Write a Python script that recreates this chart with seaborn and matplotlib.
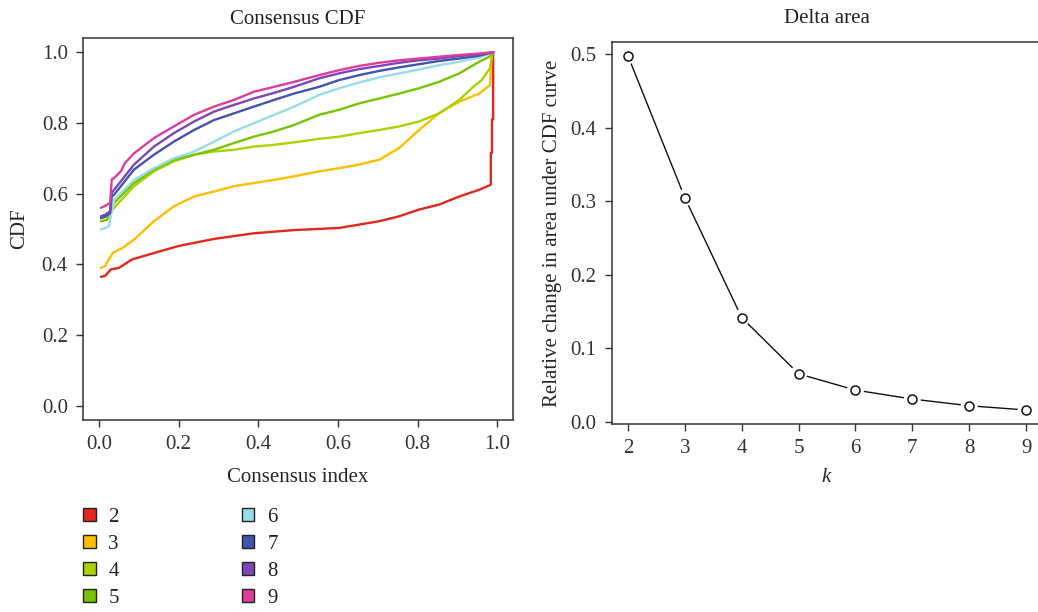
import numpy as np
import pandas as pd
import matplotlib
matplotlib.use("Agg")
import matplotlib.pyplot as plt
from matplotlib.patches import Patch
import seaborn as sns

# ---- consensus CDF curves, one per number of clusters k ----
k_labels = ["2", "3", "4", "5", "6", "7", "8", "9"]
k_colors = ["#E0281C", "#FFBE00", "#A9D200", "#76C400",
            "#96DCEA", "#4254AE", "#7D45B6", "#DA3E98"]

x_k2 = [0.005, 0.015, 0.03, 0.05, 0.083, 0.138, 0.2, 0.289, 0.39, 0.49, 0.603, 0.704, 0.754, 0.804, 0.854, 0.905, 0.955, 0.984, 0.984, 0.987, 0.987, 0.99, 0.99]
y_k2 = [0.365, 0.367, 0.386, 0.39, 0.414, 0.432, 0.452, 0.472, 0.488, 0.497, 0.503, 0.522, 0.536, 0.555, 0.569, 0.592, 0.611, 0.625, 0.715, 0.715, 0.81, 0.81, 1.0]

x_k3 = [0.005, 0.015, 0.035, 0.06, 0.088, 0.138, 0.188, 0.239, 0.289, 0.339, 0.389, 0.44, 0.49, 0.553, 0.603, 0.653, 0.704, 0.754, 0.804, 0.854, 0.905, 0.955, 0.972, 0.982, 0.986]
y_k3 = [0.39, 0.395, 0.433, 0.447, 0.47, 0.522, 0.564, 0.592, 0.606, 0.621, 0.630, 0.639, 0.649, 0.663, 0.672, 0.682, 0.696, 0.729, 0.780, 0.827, 0.860, 0.883, 0.898, 0.907, 0.996]

x_k4 = [0.005, 0.02, 0.038, 0.088, 0.138, 0.188, 0.239, 0.289, 0.339, 0.389, 0.44, 0.49, 0.553, 0.603, 0.653, 0.704, 0.754, 0.804, 0.854, 0.905, 0.94, 0.961, 0.976, 0.982, 0.988]
y_k4 = [0.531, 0.535, 0.560, 0.621, 0.663, 0.691, 0.710, 0.719, 0.724, 0.733, 0.738, 0.745, 0.755, 0.761, 0.771, 0.780, 0.790, 0.804, 0.827, 0.865, 0.902, 0.921, 0.945, 0.954, 0.996]

x_k5 = [0.005, 0.02, 0.038, 0.088, 0.138, 0.188, 0.239, 0.289, 0.339, 0.389, 0.44, 0.49, 0.553, 0.603, 0.653, 0.704, 0.754, 0.804, 0.854, 0.905, 0.955, 0.98, 0.99]
y_k5 = [0.522, 0.526, 0.574, 0.630, 0.668, 0.696, 0.710, 0.724, 0.743, 0.761, 0.776, 0.794, 0.823, 0.837, 0.855, 0.869, 0.883, 0.898, 0.916, 0.940, 0.973, 0.987, 1.0]

x_k6 = [0.005, 0.015, 0.025, 0.038, 0.088, 0.138, 0.188, 0.239, 0.289, 0.339, 0.389, 0.44, 0.49, 0.553, 0.603, 0.653, 0.704, 0.754, 0.804, 0.854, 0.905, 0.955, 0.99]
y_k6 = [0.499, 0.502, 0.508, 0.583, 0.639, 0.672, 0.700, 0.719, 0.747, 0.776, 0.799, 0.823, 0.846, 0.879, 0.898, 0.914, 0.929, 0.940, 0.951, 0.963, 0.973, 0.985, 1.0]

x_k7 = [0.005, 0.015, 0.028, 0.032, 0.038, 0.088, 0.138, 0.188, 0.239, 0.289, 0.339, 0.389, 0.44, 0.49, 0.553, 0.603, 0.653, 0.704, 0.754, 0.804, 0.854, 0.905, 0.955, 0.99]
y_k7 = [0.531, 0.535, 0.545, 0.592, 0.597, 0.668, 0.710, 0.747, 0.780, 0.808, 0.827, 0.846, 0.865, 0.883, 0.902, 0.921, 0.935, 0.947, 0.957, 0.966, 0.975, 0.982, 0.990, 1.0]

x_k8 = [0.005, 0.015, 0.028, 0.032, 0.038, 0.088, 0.138, 0.188, 0.239, 0.289, 0.339, 0.389, 0.44, 0.49, 0.553, 0.603, 0.653, 0.704, 0.754, 0.804, 0.854, 0.905, 0.955, 0.99]
y_k8 = [0.536, 0.540, 0.550, 0.602, 0.611, 0.682, 0.733, 0.771, 0.804, 0.832, 0.851, 0.869, 0.885, 0.902, 0.926, 0.940, 0.952, 0.961, 0.970, 0.977, 0.982, 0.989, 0.994, 1.0]

x_k9 = [0.005, 0.015, 0.028, 0.032, 0.038, 0.055, 0.065, 0.088, 0.138, 0.188, 0.239, 0.289, 0.339, 0.389, 0.44, 0.49, 0.553, 0.603, 0.653, 0.704, 0.754, 0.804, 0.854, 0.905, 0.955, 0.99]
y_k9 = [0.560, 0.565, 0.574, 0.640, 0.644, 0.663, 0.686, 0.714, 0.757, 0.790, 0.823, 0.846, 0.865, 0.888, 0.902, 0.916, 0.935, 0.949, 0.961, 0.970, 0.977, 0.982, 0.987, 0.992, 0.996, 1.0]

cdf_x = [x_k2, x_k3, x_k4, x_k5, x_k6, x_k7, x_k8, x_k9]
cdf_y = [y_k2, y_k3, y_k4, y_k5, y_k6, y_k7, y_k8, y_k9]

# ---- delta area ----
k_values = [2, 3, 4, 5, 6, 7, 8, 9]
delta_area = [0.498, 0.305, 0.142, 0.0655, 0.0434, 0.0312, 0.0221, 0.0163]

sns.set_theme(style="white")
plt.rcParams["font.family"] = ["Liberation Serif", "DejaVu Serif"]
plt.rcParams["mathtext.fontset"] = "custom"
plt.rcParams["mathtext.it"] = "Liberation Serif:italic"
plt.rcParams["axes.edgecolor"] = "#333333"
plt.rcParams["axes.linewidth"] = 1.1
plt.rcParams["xtick.color"] = "#333333"
plt.rcParams["ytick.color"] = "#333333"
plt.rcParams["text.color"] = "#222222"

FS = 15

fig = plt.figure(figsize=(10.38, 6.12), dpi=100)
ax1 = fig.add_axes([0.0800, 0.3137, 0.4143, 0.6242])
ax2 = fig.add_axes([0.5896, 0.3072, 0.4143, 0.6242])

# long-form table for the CDF curves
frames = []
for lab, xs, ys in zip(k_labels, cdf_x, cdf_y):
    frames.append(pd.DataFrame({"index": xs, "cdf": ys, "k": lab}))
cdf_df = pd.concat(frames, ignore_index=True)

sns.lineplot(data=cdf_df, x="index", y="cdf", hue="k", hue_order=k_labels,
             palette=k_colors, sort=False, estimator=None, linewidth=1.7,
             legend=False, ax=ax1)

ticks01 = np.arange(0, 1.01, 0.2)
ax1.set_xlim(-0.04, 1.04)
ax1.set_ylim(-0.04, 1.04)
ax1.set_xticks(ticks01)
ax1.set_yticks(ticks01)
ax1.set_xticklabels([f"{v:.1f}" for v in ticks01])
ax1.set_yticklabels([f"{v:.1f}" for v in ticks01])
ax1.set_xlabel("Consensus index", fontsize=FS, labelpad=10)
ax1.set_ylabel("CDF", fontsize=FS, labelpad=9)
ax1.set_title("Consensus CDF", fontsize=FS, pad=10)

# delta area line with open circles separated from the segments
delta_df = pd.DataFrame({"k": k_values, "delta": delta_area})
sns.lineplot(data=delta_df, x="k", y="delta", color="#111111",
             linewidth=1.0, ax=ax2)
ax2.scatter(delta_df["k"], delta_df["delta"], s=150, color="white",
            edgecolor="none", zorder=3)
ax2.scatter(delta_df["k"], delta_df["delta"], s=42, facecolor="white",
            edgecolor="#111111", linewidth=1.1, zorder=4)

ticks_d = np.arange(0, 0.51, 0.1)
ax2.set_xlim(1.72, 9.28)
ax2.set_ylim(-0.0027, 0.5167)
ax2.set_xticks(k_values)
ax2.set_yticks(ticks_d)
ax2.set_yticklabels([f"{v:.1f}" for v in ticks_d])
ax2.set_xlabel("$k$", fontsize=FS, labelpad=7)
ax2.set_ylabel("Relative change in area under CDF curve", fontsize=FS, labelpad=6)
ax2.set_title("Delta area", fontsize=FS, pad=14)

for ax in (ax1, ax2):
    ax.tick_params(axis="both", which="major", direction="out", length=5,
                   width=1.0, labelsize=FS, pad=6, bottom=True, left=True)
    for s in ax.spines.values():
        s.set_visible(True)

# legend of cluster colours beneath the CDF panel
handles = [Patch(facecolor=c, edgecolor="#222222", linewidth=1.0, label=l)
           for c, l in zip(k_colors, k_labels)]
fig.legend(handles=handles, ncol=2, loc="upper left",
           bbox_to_anchor=(83 / 1038, 1 - 508 / 612), frameon=False,
           fontsize=FS, handlelength=0.6, handleheight=0.6,
           handletextpad=0.62, labelspacing=0.38, columnspacing=5.9,
           borderpad=0, borderaxespad=0)

fig.savefig("out.png", dpi=100, facecolor="white")
